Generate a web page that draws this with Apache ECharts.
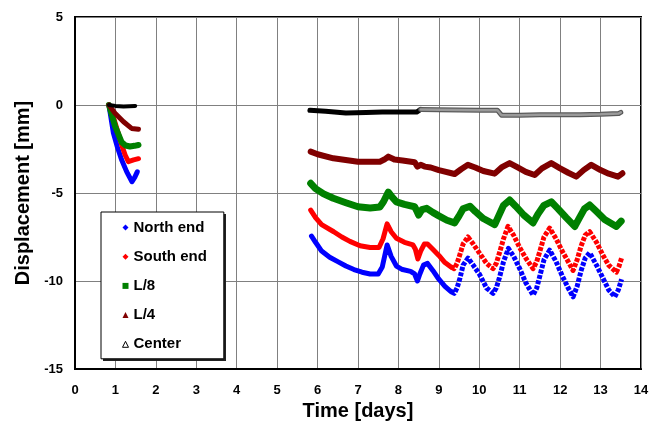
<!DOCTYPE html>
<html>
<head>
<meta charset="utf-8">
<script src="https://cdn.jsdelivr.net/npm/echarts@6/dist/echarts.min.js"></script>
<style>
  html, body { margin: 0; padding: 0; background: #fff; }
  #chart { width: 658px; height: 434px; }
</style>
</head>
<body>
<div id="chart"></div>
<script>
// Displacement vs time: [day, mm]

const northEarly = [[0.84, 0], [0.95, -1.6], [1.05, -2.4], [1.15, -3.1], [1.28, -3.8], [1.41, -4.36], [1.48, -4.1], [1.54, -3.8]];
const northMain = [
    [5.85, -7.45], [5.95, -7.8], [6.1, -8.3], [6.3, -8.65], [6.5, -8.9], [6.7, -9.15], [6.9, -9.35], [7.1, -9.5],
    [7.3, -9.6], [7.5, -9.6], [7.6, -9.2], [7.72, -7.95], [7.82, -8.6], [7.95, -9.15], [8.1, -9.35], [8.3, -9.45],
    [8.4, -9.6], [8.47, -10.0], [8.53, -9.6], [8.62, -9.1], [8.72, -9.0], [8.85, -9.4], [9.0, -9.9], [9.15, -10.3], [9.3, -10.6]
];
const northLate = [
    [9.3, -10.6], [9.38, -10.7], [9.45, -10.4], [9.52, -9.85], [9.6, -9.1], [9.72, -8.7], [9.85, -9.1], [10.0, -9.6],
    [10.18, -10.4], [10.34, -10.7], [10.42, -10.4], [10.5, -9.8], [10.6, -8.9], [10.72, -8.15], [10.85, -8.6], [11.0, -9.3],
    [11.15, -10.1], [11.33, -10.8], [11.42, -10.4], [11.5, -9.7], [11.6, -8.8], [11.74, -8.25], [11.9, -8.9], [12.05, -9.7],
    [12.2, -10.4], [12.32, -10.9], [12.42, -10.3], [12.52, -9.4], [12.62, -8.7], [12.73, -8.4], [12.9, -9.1], [13.05, -9.8],
    [13.2, -10.5], [13.35, -10.9], [13.44, -10.5], [13.52, -9.9]
];

const southEarly = [[0.84, 0], [0.95, -0.7], [1.07, -1.6], [1.16, -2.3], [1.24, -2.84], [1.32, -3.22], [1.45, -3.12], [1.57, -3.05]];
const southMain = [
    [5.83, -5.97], [5.95, -6.4], [6.1, -6.8], [6.4, -7.2], [6.6, -7.5], [6.8, -7.75], [7.05, -8.0], [7.3, -8.1],
    [7.52, -8.1], [7.62, -7.6], [7.72, -6.75], [7.82, -7.2], [7.95, -7.57], [8.15, -7.8], [8.36, -7.95], [8.42, -8.2],
    [8.48, -8.75], [8.55, -8.3], [8.64, -7.9], [8.72, -7.9], [8.85, -8.2], [9.0, -8.55], [9.15, -8.95], [9.3, -9.2]
];
const southLate = [
    [9.3, -9.2], [9.38, -9.3], [9.45, -9.0], [9.52, -8.5], [9.6, -7.9], [9.72, -7.5], [9.85, -7.9], [10.0, -8.4],
    [10.18, -9.0], [10.34, -9.3], [10.42, -9.0], [10.5, -8.4], [10.6, -7.6], [10.71, -6.9], [10.85, -7.4], [11.0, -8.1],
    [11.15, -8.7], [11.33, -9.3], [11.42, -8.9], [11.5, -8.3], [11.6, -7.5], [11.74, -7.0], [11.9, -7.6], [12.05, -8.3],
    [12.2, -8.9], [12.32, -9.4], [12.42, -8.8], [12.52, -8.0], [12.62, -7.4], [12.73, -7.2], [12.9, -7.8], [13.05, -8.5],
    [13.2, -9.1], [13.39, -9.5], [13.45, -9.2], [13.52, -8.7]
];

const l8Early = [[0.84, 0], [0.99, -1.2], [1.15, -2.1], [1.25, -2.3], [1.36, -2.36], [1.47, -2.32], [1.57, -2.27]];
const l8Main = [
    [5.83, -4.45], [5.95, -4.75], [6.15, -5.05], [6.39, -5.3], [6.7, -5.55], [7.0, -5.78], [7.3, -5.85], [7.54, -5.8],
    [7.63, -5.5], [7.75, -4.95], [7.85, -5.25], [7.95, -5.5], [8.15, -5.65], [8.4, -5.78], [8.45, -6.0], [8.5, -6.25],
    [8.58, -5.95], [8.7, -5.87], [8.85, -6.1], [9.0, -6.3], [9.2, -6.55], [9.39, -6.7], [9.5, -6.3], [9.6, -5.9],
    [9.77, -5.75], [9.9, -6.05], [10.1, -6.45], [10.38, -6.8], [10.48, -6.3], [10.6, -5.7], [10.75, -5.4], [10.9, -5.75],
    [11.1, -6.25], [11.33, -6.7], [11.45, -6.2], [11.6, -5.7], [11.78, -5.5], [11.95, -5.9], [12.15, -6.4], [12.36, -6.9],
    [12.48, -6.4], [12.6, -5.9], [12.73, -5.68], [12.9, -6.05], [13.1, -6.5], [13.39, -6.9], [13.51, -6.6]
];

const l4Early = [[0.84, 0], [0.99, -0.47], [1.2, -0.95], [1.4, -1.33], [1.57, -1.38]];
const l4Main = [
    [5.83, -2.65], [6.0, -2.8], [6.39, -3.03], [7.0, -3.22], [7.54, -3.22], [7.65, -3.1], [7.75, -2.93], [7.9, -3.1],
    [8.1, -3.15], [8.4, -3.25], [8.47, -3.5], [8.55, -3.4], [8.65, -3.5], [8.8, -3.55], [9.0, -3.7], [9.39, -3.92],
    [9.55, -3.65], [9.72, -3.4], [9.9, -3.55], [10.1, -3.75], [10.38, -3.9], [10.55, -3.55], [10.75, -3.3], [10.95, -3.55],
    [11.15, -3.8], [11.37, -3.98], [11.55, -3.6], [11.78, -3.3], [12.0, -3.6], [12.2, -3.85], [12.4, -4.07], [12.58, -3.7],
    [12.77, -3.4], [13.0, -3.7], [13.2, -3.9], [13.43, -4.07], [13.54, -3.88]
];

const centerEarly = [[0.84, 0], [1.0, -0.05], [1.2, -0.08], [1.49, -0.05]];
const centerMain = [[5.81, -0.3], [6.2, -0.35], [6.7, -0.45], [7.2, -0.43], [7.6, -0.4], [8.0, -0.4], [8.45, -0.4], [8.55, -0.25]];
const centerLate = [
    [8.55, -0.25], [9.0, -0.27], [9.5, -0.28], [10.0, -0.3], [10.45, -0.3], [10.55, -0.58], [11.0, -0.58],
    [11.5, -0.55], [12.0, -0.55], [12.5, -0.55], [13.0, -0.53], [13.45, -0.48], [13.5, -0.42]
];

const FONT = 'Liberation Sans, Arial, sans-serif';

function seg(name, data, color, width, dash) {
    return {
        name: name,
        type: 'line',
        data: data,
        symbol: 'none',
        lineStyle: {
            color: color,
            width: width,
            type: dash || 'solid',
            cap: dash ? 'butt' : 'round',
            join: 'round'
        },
        itemStyle: { color: color }
    };
}

const chart = echarts.init(document.getElementById('chart'));

chart.setOption({
    animation: false,
    backgroundColor: '#fff',
    grid: {
        left: 75, right: 17, top: 17, bottom: 65,
        show: true, borderColor: '#000', borderWidth: 2
    },
    // drop shadow behind the legend box
    graphic: [{
        type: 'rect',
        left: 103, top: 214,
        shape: { width: 123, height: 147 },
        style: { fill: '#222' },
        z: 3
    }],
    legend: {
        orient: 'vertical',
        left: 101,
        top: 212,
        padding: [8, 17, 7, 21],
        itemGap: 14.2,
        itemWidth: 6,
        itemHeight: 6,
        backgroundColor: '#fff',
        borderColor: '#000',
        borderWidth: 1,
        z: 4,
        textStyle: { fontFamily: FONT, fontWeight: 'bold', fontSize: 15, color: '#000' },
        data: [
            { name: 'North end', icon: 'diamond', itemStyle: { color: '#0000ff', borderWidth: 0 } },
            { name: 'South end', icon: 'diamond', itemStyle: { color: '#ff0000', borderWidth: 0 } },
            { name: 'L/8', icon: 'rect', itemStyle: { color: '#008000', borderWidth: 0 } },
            { name: 'L/4', icon: 'triangle', itemStyle: { color: '#800000', borderWidth: 0 } },
            { name: 'Center', icon: 'triangle', itemStyle: { color: '#fff', borderColor: '#000', borderWidth: 1 } }
        ]
    },
    xAxis: {
        type: 'value',
        min: 0, max: 14, interval: 1,
        name: 'Time [days]',
        nameLocation: 'middle',
        nameGap: 32,
        nameTextStyle: { fontFamily: FONT, fontWeight: 'bold', fontSize: 20, color: '#000' },
        axisLine: { show: true, onZero: false, lineStyle: { color: '#000', width: 2 } },
        axisTick: { show: false },
        axisLabel: { margin: 15, fontFamily: FONT, fontWeight: 'bold', fontSize: 13, color: '#000' },
        splitLine: { show: true, lineStyle: { color: '#808080', width: 1 } }
    },
    yAxis: {
        type: 'value',
        min: -15, max: 5, interval: 5,
        name: 'Displacement [mm]',
        nameLocation: 'middle',
        nameGap: 41,
        nameTextStyle: { fontFamily: FONT, fontWeight: 'bold', fontSize: 20, color: '#000' },
        axisLine: { show: true, onZero: false, lineStyle: { color: '#000', width: 2 } },
        axisTick: { show: false },
        axisLabel: { margin: 12, fontFamily: FONT, fontWeight: 'bold', fontSize: 13, color: '#000' },
        splitLine: { show: true, lineStyle: { color: '#808080', width: 1 } }
    },
    series: [
        seg('North end', northEarly, '#0000ff', 5),
        seg('North end', northMain, '#0000ff', 5),
        seg('North end', northLate, '#0000ff', 5, [4, 1.5]),
        seg('South end', southEarly, '#ff0000', 5),
        seg('South end', southMain, '#ff0000', 5),
        seg('South end', southLate, '#ff0000', 5, [4, 1.5]),
        seg('L/8', l8Early, '#008000', 6),
        seg('L/8', l8Main, '#008000', 7),
        seg('L/4', l4Early, '#800000', 5),
        seg('L/4', l4Main, '#800000', 6),
        seg('Center', centerEarly, '#000', 4),
        seg('Center', centerMain, '#000', 5),
        seg('Center', centerLate, '#5a5a5a', 5),
        seg('Center', centerLate, '#9a9a9a', 2.5)
    ]
});
</script>
</body>
</html>
